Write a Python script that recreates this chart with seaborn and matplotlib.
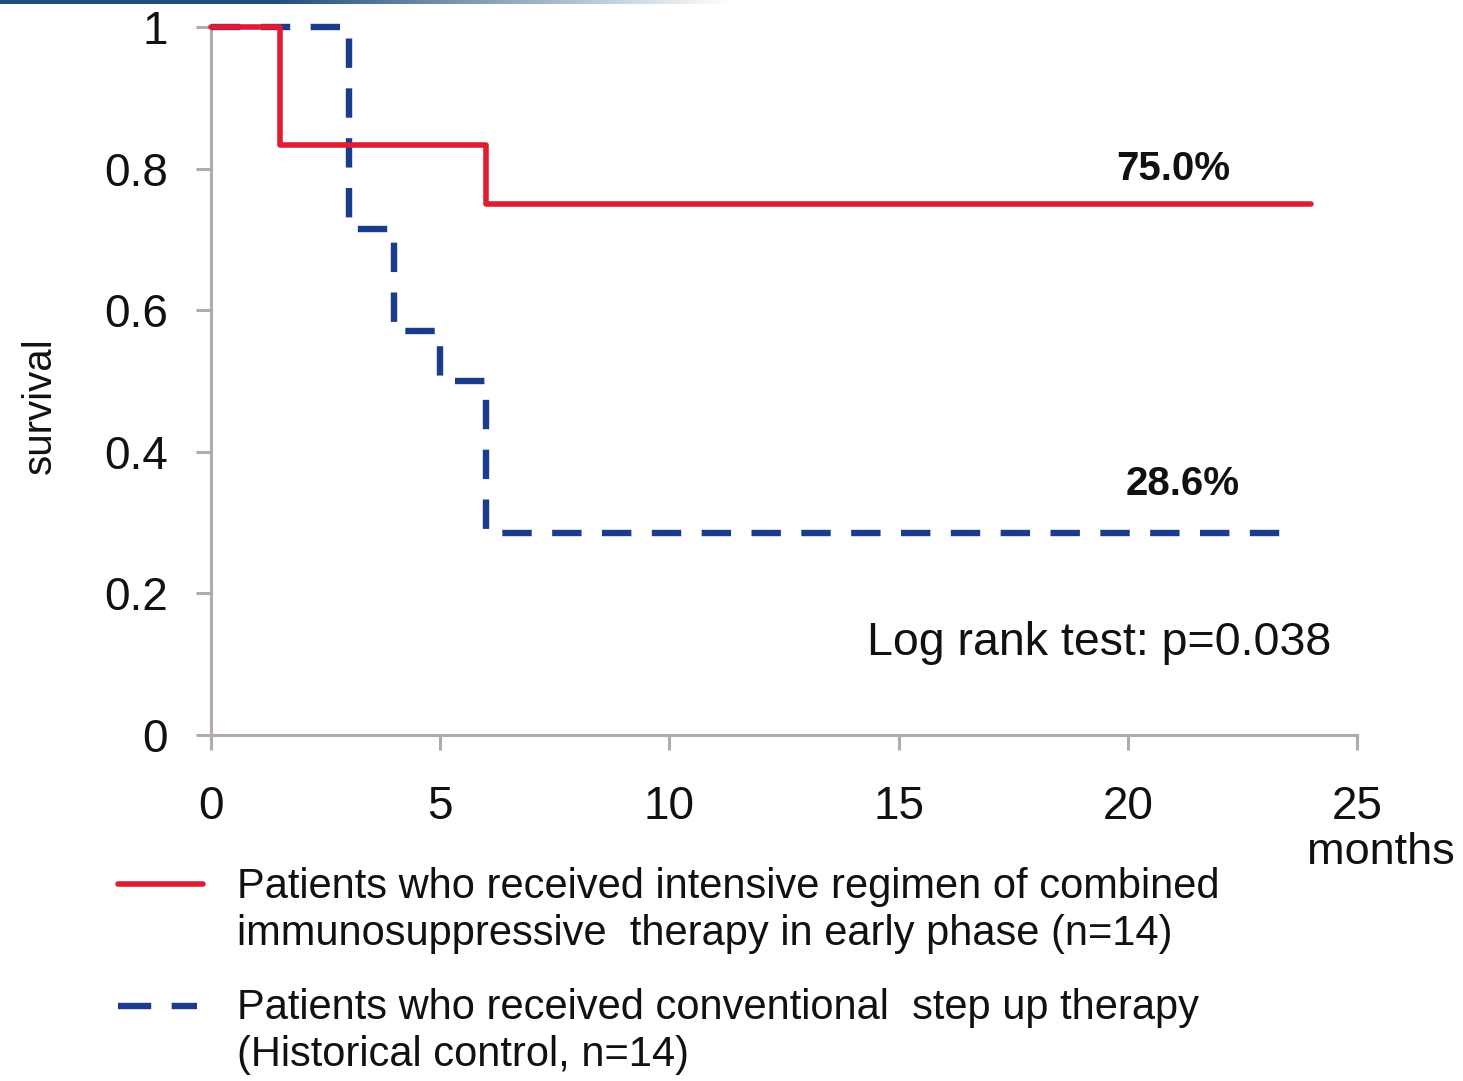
import numpy as np
import pandas as pd
import matplotlib
matplotlib.use("Agg")
import matplotlib.pyplot as plt
from matplotlib.lines import Line2D
import seaborn as sns

# Kaplan-Meier step data (months, survival)
intensive_months = [0, 1.5, 6, 24]
intensive_surv = [1.0, 0.833, 0.75, 0.75]
conventional_months = [0, 3, 4, 5, 6, 23.5]
conventional_surv = [1.0, 0.714, 0.571, 0.5, 0.286, 0.286]

x_ticks = [0, 5, 10, 15, 20, 25]
y_ticks = [0, 0.2, 0.4, 0.6, 0.8, 1.0]
y_tick_labels = ["0", "0.2", "0.4", "0.6", "0.8", "1"]

label_intensive = ("Patients who received intensive regimen of combined\n"
                   "immunosuppressive  therapy in early phase (n=14)")
label_conventional = ("Patients who received conventional  step up therapy\n"
                      "(Historical control, n=14)")
final_intensive = "75.0%"
final_conventional = "28.6%"
p_text = "Log rank test: p=0.038"

RED = "#e11b32"
BLUE = "#1b3c8c"
GREY = "#b3abab"

sns.set_theme(style="white")
plt.rcParams["font.family"] = ["Liberation Sans", "DejaVu Sans"]

fig = plt.figure(figsize=(14.63, 10.81), dpi=100)
ax = fig.add_axes([211 / 1463, 1 - 735 / 1081, (1357 - 211) / 1463, (735 - 27) / 1081])

df_i = pd.DataFrame({"months": intensive_months, "survival": intensive_surv})
df_c = pd.DataFrame({"months": conventional_months, "survival": conventional_surv})

sns.lineplot(data=df_c, x="months", y="survival", ax=ax, color=BLUE, lw=4.6,
             drawstyle="steps-post", dashes=False, clip_on=False, zorder=3)
ax.lines[-1].set_dashes([4.6, 3.2])
ax.lines[-1].set_dash_capstyle("butt")
sns.lineplot(data=df_i, x="months", y="survival", ax=ax, color=RED, lw=4.0,
             drawstyle="steps-post", clip_on=False, zorder=4)

ax.set_xlim(0, 25)
ax.set_ylim(0, 1)
ax.set_xticks(x_ticks)
ax.set_xticklabels([str(t) for t in x_ticks])
ax.set_yticks(y_ticks)
ax.set_yticklabels(y_tick_labels)
ax.set_xlabel("")
ax.set_ylabel("")

for side in ["top", "right"]:
    ax.spines[side].set_visible(False)
for side in ["left", "bottom"]:
    ax.spines[side].set_color(GREY)
    ax.spines[side].set_linewidth(2.2)
ax.tick_params(axis="both", which="major", direction="out", length=11,
               width=2.2, color=GREY, labelsize=33, labelcolor="#111111")
ax.tick_params(axis="x", pad=25, bottom=True)
ax.tick_params(axis="y", pad=20, left=True)
ax.set_facecolor("white")

ax.text(21.0, 0.80, final_intensive, fontsize=29, fontweight="bold",
        ha="center", va="center", color="#111111")
ax.text(21.2, 0.355, final_conventional, fontsize=29, fontweight="bold",
        ha="center", va="center", color="#111111")
ax.text(19.37, 0.13, p_text, fontsize=33.5, ha="center", va="center", color="#111111")

fig.text(40 / 1463, 1 - 406 / 1081, "survival", rotation=90, fontsize=29,
         ha="center", va="center", color="#111111")
fig.text(1381 / 1463, 1 - 853 / 1081, "months", fontsize=32.5,
         ha="center", va="center", color="#111111")

# legend drawn beneath the axes
fig.add_artist(Line2D([118 / 1463, 203 / 1463], [1 - 884 / 1081] * 2,
                      color=RED, lw=4.0, transform=fig.transFigure))
blue_handle = Line2D([118 / 1463, 197 / 1463], [1 - 1006 / 1081] * 2,
                     color=BLUE, lw=4.6, transform=fig.transFigure)
blue_handle.set_dashes([5.2, 3.2])
fig.add_artist(blue_handle)
fig.text(237 / 1463, 1 - 867 / 1081, label_intensive, fontsize=30,
         ha="left", va="top", linespacing=1.22, color="#111111")
fig.text(237 / 1463, 1 - 988 / 1081, label_conventional, fontsize=30,
         ha="left", va="top", linespacing=1.22, color="#111111")

# thin header rule fading out to the right
band = fig.add_axes([0, 1 - 4 / 1081, 1, 4 / 1081])
grad = np.linspace(0, 1, 512)
alpha = np.clip(1.6 - grad * 3.2, 0, 1)
rgba = np.zeros((1, 512, 4))
rgba[..., :3] = matplotlib.colors.to_rgb("#1f4e79")
rgba[..., 3] = alpha
band.imshow(rgba, aspect="auto", extent=[0, 1, 0, 1])
band.set_axis_off()

fig.savefig("out.png", dpi=100, facecolor="white")
